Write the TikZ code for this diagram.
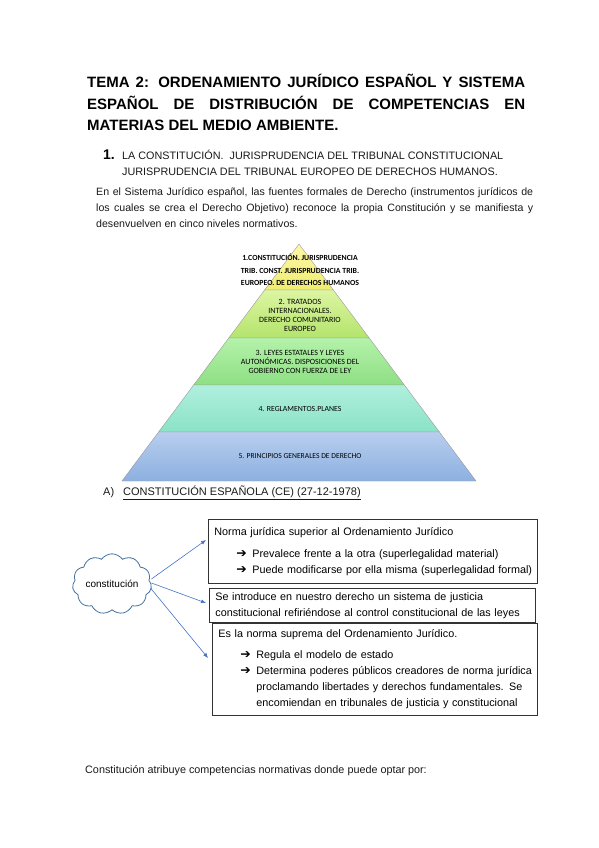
\documentclass[tikz,border=0pt]{standalone}
\usepackage{fontspec}
\setmainfont{Liberation Sans}
\newfontfamily\pyrfont{Carlito}
\newfontfamily\symfont{DejaVu Sans}
\usetikzlibrary{shapes.symbols,arrows.meta,positioning}
\definecolor{layIa}{HTML}{FBF8A8}
\definecolor{layIb}{HTML}{F0EC70}
\definecolor{layIIa}{HTML}{DCF5A2}
\definecolor{layIIb}{HTML}{B4E46C}
\definecolor{layIIIa}{HTML}{B4F2AA}
\definecolor{layIIIb}{HTML}{8EDF84}
\definecolor{layIVa}{HTML}{B0EFDE}
\definecolor{layIVb}{HTML}{8AE2C6}
\definecolor{layVa}{HTML}{B8CEEE}
\definecolor{layVb}{HTML}{8CB0E0}
\definecolor{cloudblue}{HTML}{41719C}
\definecolor{arrowblue}{HTML}{4472C4}
\newcommand{\spreadline}[2]{\makebox[#1][s]{#2}}
\newcommand{\bul}{\makebox[16pt][l]{\symfont\fontsize{12.5}{12}\selectfont ➔}}

\begin{document}
\begin{tikzpicture}[x=1pt,y=-1pt,>={Latex[length=5pt,width=4pt]},
	title/.style={font=\fontsize{15}{17}\selectfont\bfseries, anchor=west, inner sep=0pt},
	body/.style={font=\fontsize{10.8}{16}\selectfont, anchor=west, inner sep=0pt, text=black!90},
	layer/.style={font=\pyrfont\fontsize{8}{9}\selectfont, align=center, inner sep=0pt},
	infobox/.style={draw=black!80, line width=0.8pt, fill=white, anchor=north west, align=left, inner xsep=6pt, inner ysep=0pt, font=\fontsize{10.8}{16}\selectfont},
	link/.style={->, arrowblue, line width=0.6pt}]
	\useasboundingbox (0,0) rectangle (599,848);
	% title
	\node[title] (t1) at (87,81) {\spreadline{438pt}{TEMA 2: ORDENAMIENTO JURÍDICO ESPAÑOL Y SISTEMA}};
	\node[title] (t2) at (87,103) {\spreadline{438pt}{ESPAÑOL DE DISTRIBUCIÓN DE COMPETENCIAS EN}};
	\node[title] (t3) at (87,125) {MATERIAS DEL MEDIO AMBIENTE.};
	% section 1
	\node[font=\fontsize{14}{16}\selectfont\bfseries, anchor=west, inner sep=0pt] (secnum) at (103,155) {1.};
	\node[body] (sec1) at (122,155) {LA CONSTITUCIÓN.\ \ JURISPRUDENCIA DEL TRIBUNAL CONSTITUCIONAL};
	\node[body] (sec2) at (122,172) {JURISPRUDENCIA DEL TRIBUNAL EUROPEO DE DERECHOS HUMANOS.};
	\node[body, font=\fontsize{10.6}{16}\selectfont] (p1) at (96,193) {\spreadline{437pt}{En el Sistema Jurídico español, las fuentes formales de Derecho (instrumentos jurídicos de}};
	\node[body, font=\fontsize{10.6}{16}\selectfont] (p2) at (96,209) {\spreadline{437pt}{los cuales se crea el Derecho Objetivo) reconoce la propia Constitución y se manifiesta y}};
	\node[body, font=\fontsize{10.6}{16}\selectfont] (p3) at (96,224) {desenvuelven en cinco niveles normativos.};
	% pyramid
	\foreach \ytop/\ybot/\ctop/\cbot in {244/290/layIa/layIb, 290/338/layIIa/layIIb, 338/385/layIIIa/layIIIb, 385/432/layIVa/layIVb, 432/481/layVa/layVb}
		\shadedraw[top color=\ctop, bottom color=\cbot, draw=black!40, line width=0.4pt]
			({299-0.747*(\ytop-244)},\ytop) -- ({299+0.747*(\ytop-244)},\ytop) --
			({299+0.747*(\ybot-244)},\ybot) -- ({299-0.747*(\ybot-244)},\ybot) -- cycle;
	\node[layer, font=\pyrfont\fontsize{7.8}{12.5}\selectfont\bfseries] (lay1) at (300,270) {1.CONSTITUCIÓN. JURISPRUDENCIA\\TRIB. CONST. JURISPRUDENCIA TRIB.\\EUROPEO. DE DERECHOS HUMANOS};
	\node[layer] (lay2) at (300,315) {2. TRATADOS\\INTERNACIONALES.\\DERECHO COMUNITARIO\\EUROPEO};
	\node[layer, font=\pyrfont\fontsize{8}{8.6}\selectfont] (lay3) at (300,362) {3. LEYES ESTATALES Y LEYES\\AUTONÓMICAS. DISPOSICIONES DEL\\GOBIERNO CON FUERZA DE LEY};
	\node[layer, font=\pyrfont\fontsize{7.8}{8}\selectfont] (lay4) at (300,409) {4. REGLAMENTOS.PLANES};
	\node[layer, font=\pyrfont\fontsize{7.6}{8}\selectfont] (lay5) at (300,456) {5. PRINCIPIOS GENERALES DE DERECHO};
	% A) constitucion
	\node[body, font=\fontsize{11}{16}\selectfont] (secA) at (103,493) {A)};
	\node[body, font=\fontsize{11}{16}\selectfont] (ce) at (123,493) {\underline{CONSTITUCIÓN ESPAÑOLA (CE) (27-12-1978)}};
	% boxes
	\node[infobox, text width=317pt, minimum height=64pt] (box1) at (208,519) {\mbox{Norma jurídica superior al Ordenamiento Jurídico}\\[6pt]
		\mbox{\hspace*{22pt}\bul Prevalece frente a la otra (superlegalidad material)}\\
		\mbox{\hspace*{22pt}\bul Puede modificarse por ella misma (superlegalidad formal)}};
	\node[infobox, text width=314pt, minimum height=34pt] (box2) at (209,588) {\mbox{Se introduce en nuestro derecho un sistema de justicia}\\
		\mbox{constitucional refiriéndose al control constitucional de las leyes}};
	\node[infobox, text width=313pt, minimum height=92pt] (box3) at (212,623) {\mbox{Es la norma suprema del Ordenamiento Jurídico.}\\[5pt]
		\mbox{\hspace*{22pt}\bul Regula el modelo de estado}\\
		\mbox{\hspace*{22pt}\bul Determina poderes públicos creadores de norma jurídica}\\
		\mbox{\hspace*{38pt}proclamando libertades y derechos fundamentales. Se}\\
		\mbox{\hspace*{38pt}encomiendan en tribunales de justicia y constitucional}};
	% cloud and arrows
	\node[cloud, cloud puffs=11, cloud puff arc=110, aspect=1.45, draw=cloudblue, line width=0.8pt, fill=white,
		minimum width=79pt, minimum height=58pt, inner sep=0pt, font=\fontsize{10}{11}\selectfont] (const) at (112,584) {constitución};
	\coordinate (tip1) at (206,540);
	\coordinate (tip2) at (206,603);
	\coordinate (tip3) at (208,658);
	\draw[link] ([yshift=5pt]const.east) -- (tip1);
	\draw[link] ([yshift=1pt]const.east) -- (tip2);
	\draw[link] ([xshift=-1pt,yshift=-4pt]const.east) -- (tip3);
	% closing line
	\node[body] (last) at (85,771) {Constitución atribuye competencias normativas donde puede optar por:};
\end{tikzpicture}
\end{document}
